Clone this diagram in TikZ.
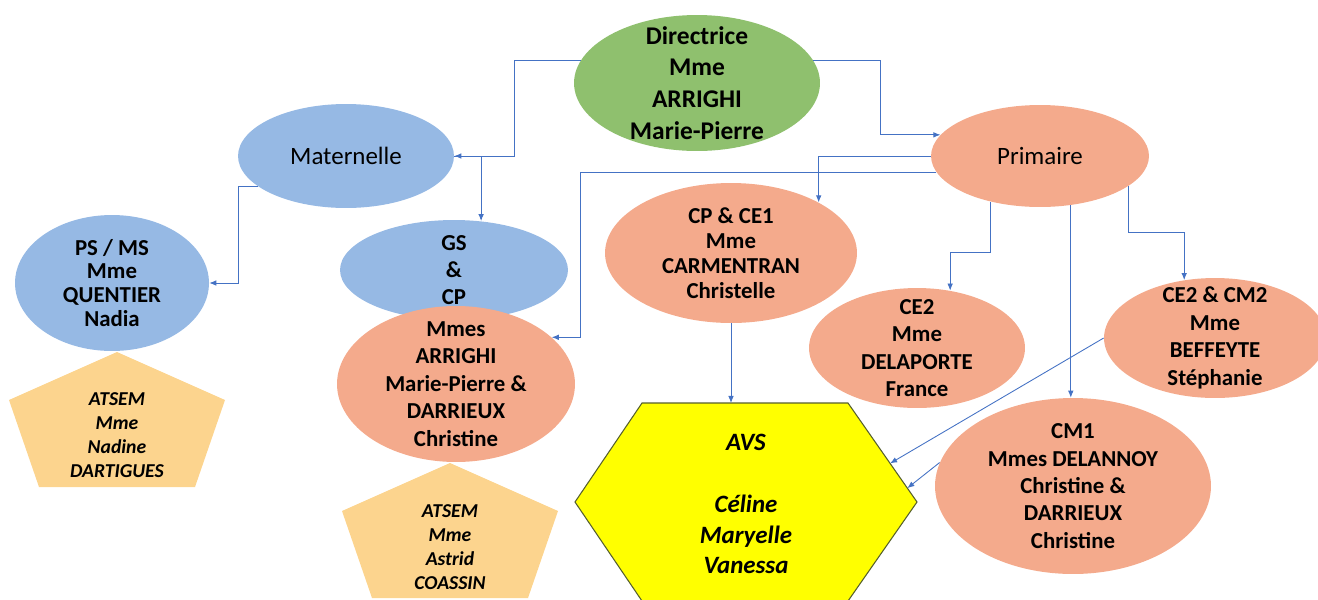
\documentclass[tikz,border=0pt]{standalone}
\usepackage{fontspec}
\setmainfont{Carlito}
\usetikzlibrary{shapes.geometric,arrows.meta,calc}

\definecolor{dirgreen}{RGB}{143,192,110}
\definecolor{matblue}{RGB}{150,185,228}
\definecolor{primsalmon}{RGB}{244,170,140}
\definecolor{atsemorange}{RGB}{252,212,142}
\definecolor{avsyellow}{RGB}{255,255,0}
\definecolor{avsedge}{RGB}{85,95,45}
\definecolor{linkblue}{RGB}{68,114,196}

\begin{document}
\begin{tikzpicture}[
  x=0.02cm, y=-0.02cm,
  >={Latex[length=4pt,width=3.2pt]},
  blob/.style={ellipse, inner sep=-10pt, align=center, font=\fontsize{13}{15.6}\selectfont\bfseries},
  matbox/.style={blob, fill=matblue},
  primbox/.style={blob, fill=primsalmon},
  atsembox/.style={fill=atsemorange},
  helper/.style={align=center, font=\fontsize{11.2}{13.6}\selectfont\bfseries\itshape},
  link/.style={->, draw=linkblue, line width=0.5pt}
]
  \useasboundingbox (0,0) rectangle (1318,599);

  % top level
  \node[blob, fill=dirgreen, minimum width=4.92cm, minimum height=2.72cm,
        font=\fontsize{14.5}{18.1}\selectfont\bfseries] (dir) at (697,83)
        {Directrice\\Mme\\ARRIGHI\\Marie-Pierre};
  \node[matbox, minimum width=4.32cm, minimum height=2.08cm,
        font=\fontsize{14.2}{17}\selectfont] (mat) at (346,156) {Maternelle};
  \node[primbox, minimum width=4.36cm, minimum height=2.04cm,
        font=\fontsize{14.2}{17}\selectfont] (prim) at (1040,156) {Primaire};

  % maternelle classes
  \node[matbox, minimum width=3.88cm, minimum height=2.72cm,
        font=\fontsize{13}{13.6}\selectfont\bfseries] (psms) at (112,283)
        {PS / MS\\Mme\\QUENTIER\\Nadia};
  \node[matbox, minimum width=4.56cm, minimum height=2.0cm] (gs) at (454,270)
        {GS\\\&\\CP};
  \node[primbox, minimum width=4.76cm, minimum height=3.12cm] (mmes) at (456,384)
        {Mmes\\ARRIGHI\\Marie-Pierre \&\\DARRIEUX\\Christine};

  % ATSEM
  \fill[atsembox] (117,352) -- ++(108,48) -- ++(-30,87) -- ++(-156,0) -- ++(-30,-87) -- cycle;
  \node[helper] (atsem1) at (117,435) {ATSEM\\Mme\\Nadine\\DARTIGUES};
  \fill[atsembox] (450,463) -- ++(108,48) -- ++(-30,87) -- ++(-156,0) -- ++(-30,-87) -- cycle;
  \node[helper] (atsem2) at (450,547) {ATSEM\\Mme\\Astrid\\COASSIN};

  % primaire classes
  \node[primbox, minimum width=5.04cm, minimum height=2.8cm,
        font=\fontsize{13}{14.2}\selectfont\bfseries] (cp) at (731,253)
        {CP \& CE1\\Mme\\CARMENTRAN\\Christelle};
  \node[primbox, minimum width=4.32cm, minimum height=2.4cm] (ce2) at (917,348)
        {CE2\\Mme\\DELAPORTE\\France};
  \node[primbox, minimum width=4.44cm, minimum height=2.4cm] (cm2) at (1215,338)
        {CE2 \& CM2\\Mme\\BEFFEYTE\\Stéphanie};
  \node[primbox, minimum width=5.52cm, minimum height=3.52cm] (cm1) at (1073,486)
        {CM1\\Mmes DELANNOY\\Christine \&\\DARRIEUX\\Christine};

  % AVS
  \coordinate (hexL) at (575,502);
  \coordinate (hexTL) at (642,403);
  \coordinate (hexTR) at (848,403);
  \coordinate (hexR) at (917,502);
  \coordinate (hexBR) at (848,601);
  \coordinate (hexBL) at (642,601);
  \filldraw[fill=avsyellow, draw=avsedge, line width=0.6pt]
    (hexL) -- (hexTL) -- (hexTR) -- (hexR) -- (hexBR) -- (hexBL) -- cycle;
  \node[align=center, font=\fontsize{14.2}{17.6}\selectfont\bfseries\itshape] (avs) at (746,504)
        {AVS\\[17.6pt]Céline\\Maryelle\\Vanessa};
  \coordinate (avsin1) at ($(hexTR)!0.61!(hexR)$);
  \coordinate (avsin2) at ($(hexTR)!0.86!(hexR)$);

  % links
  \draw[link] (dir.169) -- (514,0 |- dir.169) |- (mat.east);
  \draw[link] (mat.east) -| (gs.61);
  \draw[link] (mat.199) -- (238,0 |- mat.199) |- (psms.east);
  \draw[link] (dir.11) -- (880,0 |- dir.11) |- (prim.168);
  \draw[link] (prim.west) -| (cp.30);
  \draw[link] (prim.189) -- (580,0 |- prim.189) |- (mmes.26);
  \draw[link] (prim.223) |- (ce2.60 |- 0,252) -- (ce2.60);
  \draw[link] (prim.302) -- (prim.302 |- cm1.north);
  \draw[link] (prim.341) |- (cm2.118 |- 0,232) -- (cm2.118);
  \draw[link] (cp.south) -- (cp.south |- hexTL);
  \draw[link] (cm2.west) -- (avsin1);
  \draw[link] (cm1.170) -- (avsin2);
\end{tikzpicture}
\end{document}
